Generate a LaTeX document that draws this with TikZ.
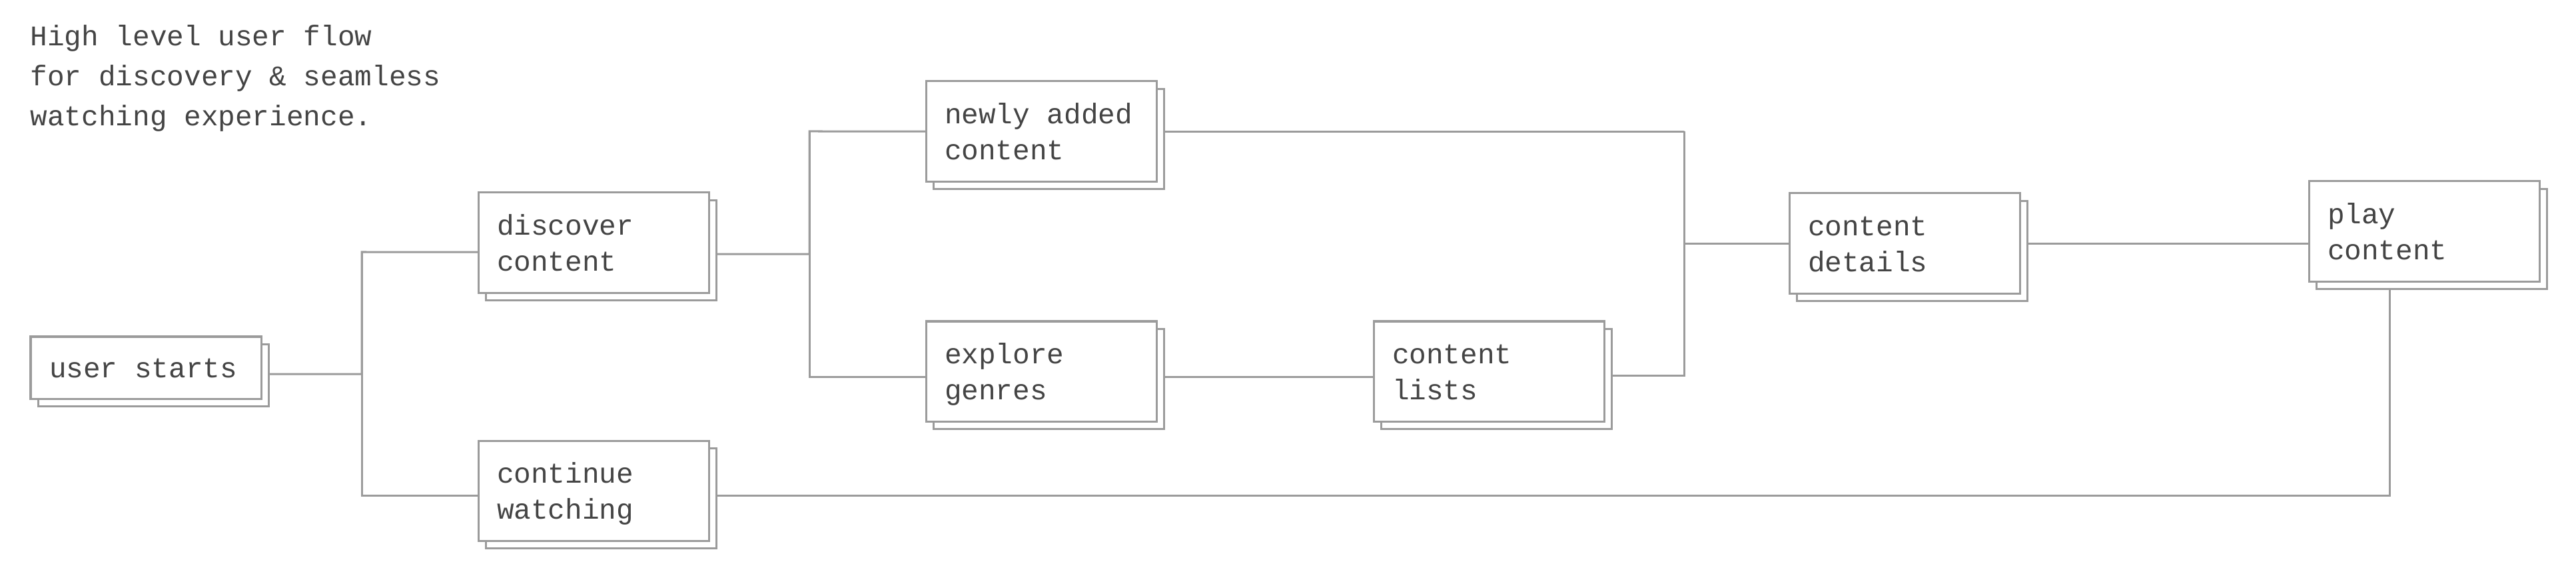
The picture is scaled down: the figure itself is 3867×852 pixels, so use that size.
\documentclass[tikz,border=0pt]{standalone}
\usepackage{fontspec}
\newfontfamily\flowfont{Liberation Mono}
\usetikzlibrary{shadows}
\definecolor{linegray}{HTML}{9B9B9B}
\definecolor{inkgray}{HTML}{444444}
\pgfdeclarelayer{background}
\pgfsetlayers{background,main}
\newcommand{\hiStrut}{\spaceskip=0.6em\relax\rule{0pt}{0.40cm}}
\newcommand{\loStrut}{\rule[-0.10cm]{0pt}{0.10cm}}

\begin{document}
\begin{tikzpicture}[x=0.01cm, y=-0.01cm,
    box/.style={draw=linegray, fill=white, line width=0.03cm, anchor=north west, outer sep=0pt,
        inner xsep=0.28cm, inner ysep=0pt, text width=2.90cm, minimum width=3.46cm, minimum height=1.50cm,
        align=left, text=inkgray, font=\flowfont\fontsize{12.15pt}{15.37pt}\selectfont,
        copy shadow={shadow xshift=0.11cm, shadow yshift=-0.11cm, draw=linegray, fill=white, line width=0.03cm}},
    note/.style={anchor=north west, inner sep=0pt, align=left, text=inkgray,
        font=\flowfont\fontsize{12.15pt}{17.0pt}\selectfont},
    link/.style={draw=linegray, line width=0.03cm}]
        \useasboundingbox (0,0) rectangle (3867,852);

        \node[note] (title) at (45,28) {\hiStrut High level user flow\\for discovery \& seamless\\watching experience.};

        \node[box, minimum height=0.93cm] (us) at (46,505) {\hiStrut user starts\loStrut};
        \node[box] (dc) at (718,289) {\hiStrut discover\\content\loStrut};
        \node[box] (cw) at (718,661) {\hiStrut continue\\watching\loStrut};
        \node[box] (na) at (1390,122) {\hiStrut newly added\\content\loStrut};
        \node[box] (eg) at (1390,482) {\hiStrut explore\\genres\loStrut};
        \node[box] (cl) at (2062,482) {\hiStrut content\\lists\loStrut};
        \node[box] (cd) at (2686,290) {\hiStrut content\\details\loStrut};
        \node[box] (pc) at (3466,272) {\hiStrut play\\content\loStrut};

        \begin{pgfonlayer}{background}
        \coordinate (j1) at (543,378);
        \coordinate (j2) at (1215,197);
        \coordinate (j3) at (2528,197);

        \draw[link] ([yshift=-0.095cm]us.east) -| (j1) -- ([yshift=-0.14cm]dc.west);
        \draw[link] (j1) |- ([yshift=-0.07cm]cw.west);
        \draw[link] ([yshift=-0.17cm]dc.east) -| (j2) -- (na.west);
        \draw[link] (j2) |- ([yshift=-0.08cm]eg.west);
        \draw[link] ([yshift=-0.08cm]eg.east) -- ([yshift=-0.08cm]cl.west);
        \draw[link] (na.east) -| (j3) |- ([yshift=-0.06cm]cl.east);
        \draw[link] (j3 |- cd.west) -- (cd.west);
        \draw[link] (cd.east) -- (cd.east -| pc.west);
        \draw[link] ([xshift=-0.52cm]pc.south) |- ([yshift=-0.07cm]cw.east);
        \end{pgfonlayer}
    \end{tikzpicture}
\end{document}
